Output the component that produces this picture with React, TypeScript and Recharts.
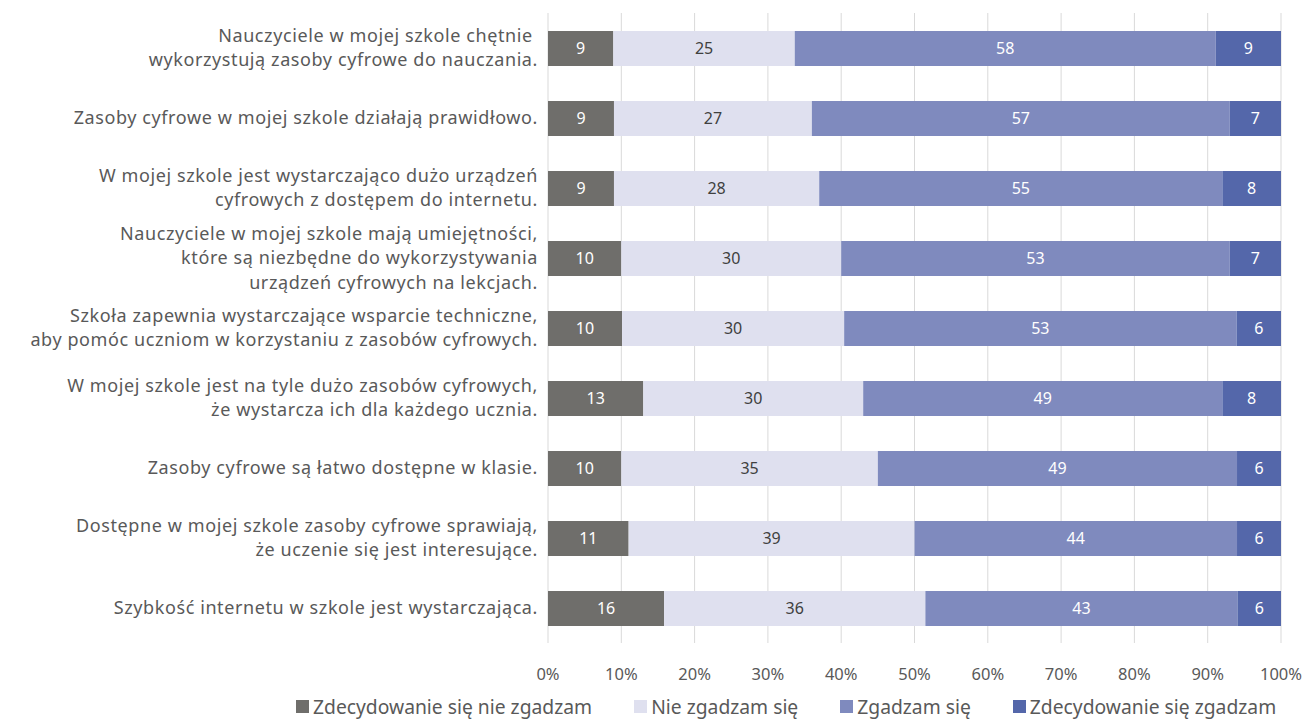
import React from "react";
import {
  BarChart,
  Bar,
  XAxis,
  YAxis,
  CartesianGrid,
  Legend,
  LabelList,
} from "recharts";

const categories: string[] = [
  "Nauczyciele w mojej szkole chętnie \nwykorzystują zasoby cyfrowe do nauczania.",
  "Zasoby cyfrowe w mojej szkole działają prawidłowo.",
  "W mojej szkole jest wystarczająco dużo urządzeń\ncyfrowych z dostępem do internetu.",
  "Nauczyciele w mojej szkole mają umiejętności,\nktóre są niezbędne do wykorzystywania\nurządzeń cyfrowych na lekcjach.",
  "Szkoła zapewnia wystarczające wsparcie techniczne,\naby pomóc uczniom w korzystaniu z zasobów cyfrowych.",
  "W mojej szkole jest na tyle dużo zasobów cyfrowych,\nże wystarcza ich dla każdego ucznia.",
  "Zasoby cyfrowe są łatwo dostępne w klasie.",
  "Dostępne w mojej szkole zasoby cyfrowe sprawiają,\nże uczenie się jest interesujące.",
  "Szybkość internetu w szkole jest wystarczająca.",
];

const stronglyDisagree = [9, 9, 9, 10, 10, 13, 10, 11, 16];
const disagree = [25, 27, 28, 30, 30, 30, 35, 39, 36];
const agree = [58, 57, 55, 53, 53, 49, 49, 44, 43];
const stronglyAgree = [9, 7, 8, 7, 6, 8, 6, 6, 6];

const seriesNames = [
  "Zdecydowanie się nie zgadzam",
  "Nie zgadzam się",
  "Zgadzam się",
  "Zdecydowanie się zgadzam",
];
const seriesColors = ["#6F6E6B", "#DFE0EF", "#7F8ABE", "#5467AA"];
const labelColors = ["#FFFFFF", "#404040", "#FFFFFF", "#FFFFFF"];
const xTicks = [0, 0.1, 0.2, 0.3, 0.4, 0.5, 0.6, 0.7, 0.8, 0.9, 1];

const data = categories.map((name, i) => ({
  name,
  sd: stronglyDisagree[i],
  d: disagree[i],
  a: agree[i],
  sa: stronglyAgree[i],
}));
const keys = ["sd", "d", "a", "sa"];

const FONT = "'Noto Sans', sans-serif";

// multi-line category label, right aligned against the plot
const CategoryTick = (props: any) => {
  const { x, y, payload } = props;
  const lines: string[] = String(payload.value).split("\n");
  const lh = 24.5;
  const first = -((lines.length - 1) * lh) / 2 + 6;
  return (
    <text
      x={x}
      y={y}
      textAnchor="end"
      fill="#595959"
      fontSize={18}
      letterSpacing={0.6}
      fontFamily={FONT}
    >
      {lines.map((l, i) => (
        <tspan key={i} x={x} dy={i === 0 ? first : lh}>
          {l}
        </tspan>
      ))}
    </text>
  );
};

const LegendContent = () => (
  <div
    style={{
      display: "flex",
      justifyContent: "flex-start",
      paddingLeft: 296,
      fontFamily: FONT,
      fontSize: 19.3,
      color: "#595959",
      whiteSpace: "nowrap",
    }}
  >
    {seriesNames.map((n, i) => (
      <div key={n} style={{ display: "flex", alignItems: "center", marginRight: 42 }}>
        <span
          style={{
            display: "inline-block",
            width: 13,
            height: 13,
            background: seriesColors[i],
            marginRight: 4,
          }}
        />
        <span>{n}</span>
      </div>
    ))}
  </div>
);

export default function App() {
  return (
    <div style={{ position: "absolute", left: 0, top: 0, background: "#fff" }}>
      <BarChart
        width={1304}
        height={725}
        data={data}
        layout="vertical"
        stackOffset="expand"
        margin={{ top: 13, right: 23, left: 0, bottom: 42 }}
      >
        <CartesianGrid horizontal={false} stroke="#D9D9D9" strokeWidth={1} />
        <XAxis
          type="number"
          domain={[0, 1]}
          ticks={xTicks}
          tickFormatter={(v: number) => `${Math.round(v * 100)}%`}
          axisLine={false}
          tickLine={false}
          tickSize={0}
          tickMargin={25}
          height={40}
          tick={{ fill: "#595959", fontSize: 16.5, fontFamily: FONT }}
          interval={0}
        />
        <YAxis
          type="category"
          dataKey="name"
          width={548}
          axisLine={false}
          tickLine={false}
          tickSize={0}
          tickMargin={10}
          tick={<CategoryTick />}
          interval={0}
        />
        <Legend
          layout="horizontal"
          verticalAlign="middle"
          content={<LegendContent />}
          wrapperStyle={{ top: 693, left: 0, width: 1304, bottom: "auto" }}
        />
        {keys.map((k, i) => (
          <Bar
            key={k}
            dataKey={k}
            name={seriesNames[i]}
            stackId="s"
            fill={seriesColors[i]}
            barSize={35}
            isAnimationActive={false}
          >
            <LabelList
              dataKey={k}
              position="center"
              fill={labelColors[i]}
              fontSize={16}
              fontFamily={FONT}
            />
          </Bar>
        ))}
      </BarChart>
    </div>
  );
}
